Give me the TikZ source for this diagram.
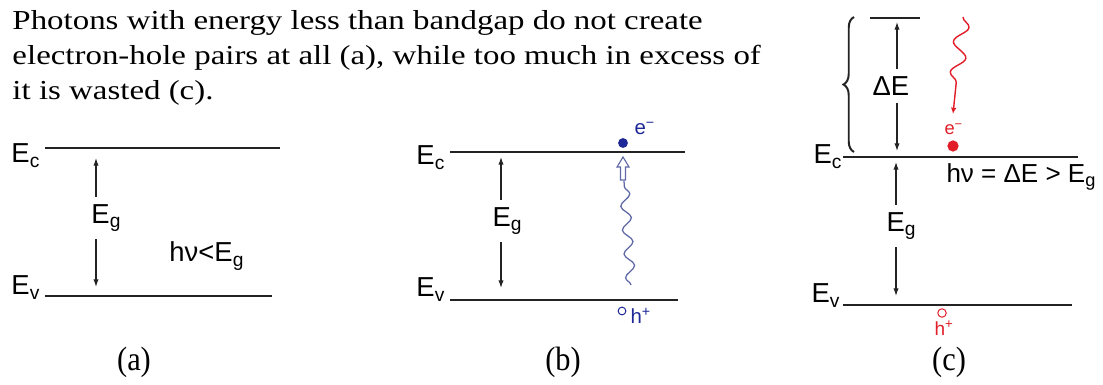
\documentclass[tikz,border=0pt]{standalone}
\usepackage{fontspec}
\setmainfont{Liberation Serif}[FakeStretch=1.2]
\setsansfont{Liberation Sans}
\newfontfamily\capfont{Liberation Serif}[FakeStretch=0.9]
\usetikzlibrary{arrows.meta,decorations.pathmorphing,decorations.pathreplacing}
\definecolor{bandgray}{RGB}{35,35,35}
\definecolor{eblue}{RGB}{30,40,150}
\definecolor{wblue}{RGB}{95,105,165}
\definecolor{ered}{RGB}{225,30,40}
\begin{document}
\begin{tikzpicture}[x=0.025cm, y=-0.025cm, line width=0.7pt,
  every node/.style={inner sep=0pt, font=\sffamily\fontsize{19.5}{21}\selectfont},
  band/.style={draw=bandgray, line width=1.4pt},
  gaparrow/.style={draw=bandgray, line width=0.8pt, -{Latex[length=5.5pt,width=3.8pt]}},
  gaplabel/.style={anchor=west, inner ysep=5pt},
  smalltxt/.style={font=\sffamily\fontsize{14.5}{15}\selectfont},
  photon/.style={decorate, decoration={snake, amplitude=3.5pt, segment length=17pt}}]
  \useasboundingbox (0,0) rectangle (1103,385);
  \node[anchor=north west, align=left, font=\rmfamily\fontsize{19.5}{24.8}\selectfont] (intro) at (12,10) {Photons with energy less than bandgap do not create\\electron-hole pairs at all (a), while too much in excess of\\it is wasted (c).};

  \draw[band] (45,148) -- (280,148);
  \draw[band] (45,296) -- (272,296);
  \node[anchor=base west] (aEc) at (11,163) {E\textsubscript{c}};
  \node[anchor=base west] (aEv) at (11,295) {E\textsubscript{v}};
  \coordinate (aTop) at (96,158);
  \coordinate (aBot) at (96,287);
  \node[gaplabel] (aEg) at (91,218) {E\textsubscript{g}};
  \draw[gaparrow] (aEg.north -| aTop) -- (aTop);
  \draw[gaparrow] (aEg.south -| aBot) -- (aBot);
  \node[anchor=base west] (aHv) at (169,262) {hν<E\textsubscript{g}};

  \draw[band] (450,152) -- (685,152);
  \draw[band] (450,300) -- (678,300);
  \node[anchor=base west] (bEc) at (416,165) {E\textsubscript{c}};
  \node[anchor=base west] (bEv) at (416,297) {E\textsubscript{v}};
  \coordinate (bTop) at (501,157);
  \coordinate (bBot) at (501,288);
  \node[gaplabel] (bEg) at (492,221) {E\textsubscript{g}};
  \draw[gaparrow] (bEg.north -| bTop) -- (bTop);
  \draw[gaparrow] (bEg.south -| bBot) -- (bBot);
  \node[circle, fill=eblue, minimum size=7pt] (bElec) at (623,143) {};
  \node[smalltxt, text=eblue, anchor=base west] (bElab) at (634,135) {e\textsuperscript{−}};
  \draw[wblue, line width=0.8pt] (623,157) -- (629,167) -- (625.5,167) -- (625.5,180) -- (620.5,180) -- (620.5,167) -- (617,167) -- cycle;
  \coordinate (bPhTop) at (624,181);
  \coordinate (bPhBot) at (631,285);
  \draw[photon, wblue, line width=0.9pt] (bPhBot) -- (bPhTop);
  \node[circle, draw=eblue, line width=0.7pt, minimum size=5.5pt] (bHole) at (622,311) {};
  \node[smalltxt, text=eblue, anchor=base west] (bHlab) at (630,324) {h\textsuperscript{+}};

  \draw[band] (870,18) -- (920,18);
  \draw[band] (843,157) -- (1078,157);
  \draw[band] (843,305) -- (1072,305);
  \node[anchor=base west] (cEc) at (813,164) {E\textsubscript{c}};
  \node[anchor=base west] (cEv) at (811,303) {E\textsubscript{v}};
  \draw[bandgray, line width=1.4pt, decorate, decoration={brace, amplitude=7.5pt}] (854,152) -- (854,17);
  \coordinate (cDTop) at (897,22);
  \coordinate (cDBot) at (897,151);
  \node[gaplabel] (cDE) at (872,86) {ΔE};
  \draw[gaparrow] (cDE.north -| cDTop) -- (cDTop);
  \draw[gaparrow] (cDE.south -| cDBot) -- (cDBot);
  \coordinate (cTop) at (896,162);
  \coordinate (cBot) at (896,296);
  \node[gaplabel] (cEg) at (886,226) {E\textsubscript{g}};
  \draw[gaparrow] (cEg.north -| cTop) -- (cTop);
  \draw[gaparrow] (cEg.south -| cBot) -- (cBot);
  \coordinate (cPhTop) at (963,17);
  \coordinate (cPhTip) at (953,114);
  \draw[photon, ered, line width=1pt, decoration={amplitude=5pt, segment length=22pt, post length=14pt}, -{Latex[length=4.5pt,width=4pt]}] (cPhTop) -- (cPhTip);
  \node[font=\sffamily\fontsize{13}{14}\selectfont, text=ered, anchor=base west] (cElab) at (944,135) {e\textsuperscript{−}};
  \node[circle, fill=ered, minimum size=8pt] (cElec) at (953,146) {};
  \node[anchor=base west, font=\sffamily\fontsize{18.5}{20}\selectfont] (cHv) at (946,183) {hν = ΔE > E\textsubscript{g}};
  \node[circle, draw=ered, line width=0.7pt, minimum size=6pt] (cHole) at (942,313) {};
  \node[font=\sffamily\fontsize{13.5}{14}\selectfont, text=ered, anchor=base west] (cHlab) at (934,336) {h\textsuperscript{+}};

  \foreach \x/\lab in {134/a,563/b,949/c}
    \node[font=\capfont\fontsize{24}{26}\selectfont] (cap\lab) at (\x,362) {(\lab)};
\end{tikzpicture}
\end{document}
